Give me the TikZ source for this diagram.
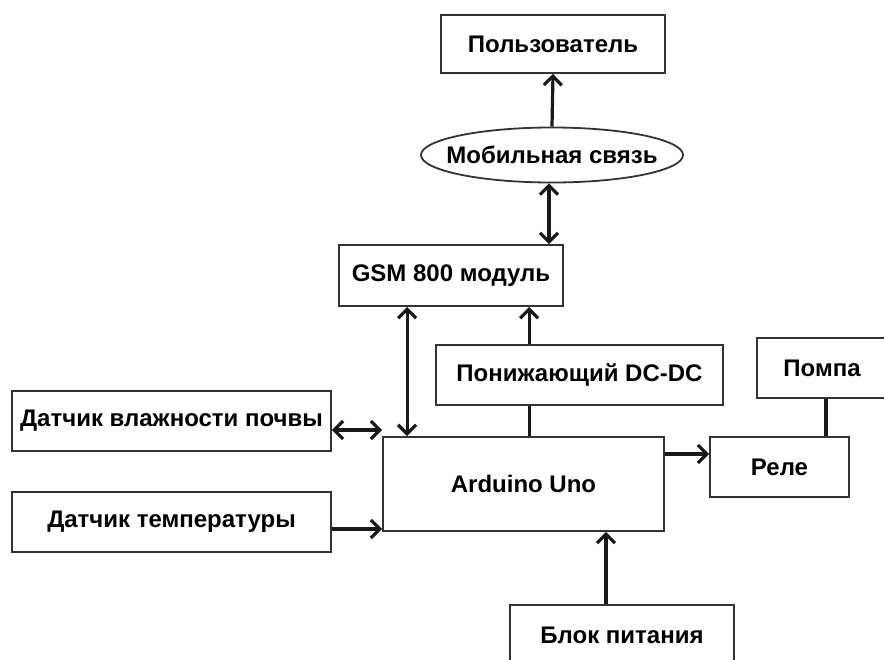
\documentclass[tikz,border=0pt]{standalone}
\usepackage{fontspec}
\setmainfont{Liberation Sans}
\usepackage{tikz}
\usetikzlibrary{arrows.meta}
\usetikzlibrary{shapes.geometric}

\tikzset{
  blok/.style = {draw = black!80, line width = 1.8pt, inner sep = 0pt,
                 font = \fontsize{24}{28}\selectfont\bfseries},
  svyaz/.style = {line width = 3.2pt, black!90},
  strelka/.style = {svyaz, -{Straight Barb[length = 9pt, width = 18pt]}},
  dvestrelki/.style = {svyaz, {Straight Barb[length = 9pt, width = 18pt]}-{Straight Barb[length = 9pt, width = 18pt]}}
}

\begin{document}
\begin{tikzpicture}[x = 1pt, y = -1pt]
            \clip (0, 0) rectangle (884, 659);
            \fill [white] (0, 0) rectangle (884, 659);
            % bloki
            \node [blok, minimum width = 224, minimum height = 58] (polz) at (553, 44) {Пользователь};
            \node [blok, ellipse, inner xsep = -13pt, minimum width = 262, minimum height = 55] (mob) at (552, 155) {Мобильная связь};
            \node [blok, minimum width = 224, minimum height = 61] (gsm) at (451, 275.5) {GSM 800 модуль};
            \node [blok, minimum width = 287, minimum height = 60] (dcdc) at (579.5, 375) {Понижающий DC-DC};
            \node [blok, minimum width = 281, minimum height = 94] (ard) at (523.5, 484) {Arduino Uno};
            \node [blok, minimum width = 319, minimum height = 60] (vlag) at (171.5, 421) {Датчик влажности почвы};
            \node [blok, minimum width = 319, minimum height = 60] (temp) at (171.5, 522) {Датчик температуры};
            \node [blok, minimum width = 139, minimum height = 60] (rele) at (779.5, 467) {Реле};
            \node [blok, minimum width = 130, minimum height = 60] (pompa) at (822, 368) {Помпа};
            \node [blok, minimum width = 224, minimum height = 60] (pitanie) at (622, 635) {Блок питания};
            % svyazi
            \draw [strelka] (mob.north) -- (polz.south);
            \draw [dvestrelki] ([xshift = -3]mob.south) -- ([xshift = -3]mob.south |- gsm.north);
            \draw [dvestrelki] ([xshift = 69]gsm.south west) -- ([xshift = 25]ard.north west);
            \draw [strelka] ([xshift = 94]dcdc.north west) -- ([xshift = 94]dcdc.north west |- gsm.south);
            \draw [svyaz] ([xshift = 147]ard.north west) -- ([xshift = 147]ard.north west |- dcdc.south);
            \draw [dvestrelki] ([yshift = -9]vlag.east) -- ([yshift = -9]vlag.east -| ard.west);
            \draw [strelka] ([yshift = -7]temp.east) -- ([yshift = -7]temp.east -| ard.west);
            \draw [strelka] ([yshift = 13]rele.west -| ard.east) -- ([yshift = 13]rele.west);
            \draw [svyaz] ([xshift = 4]pompa.south) -- ([xshift = 4]pompa.south |- rele.north);
            \draw [strelka] ([xshift = -16]pitanie.north) -- ([xshift = -16]pitanie.north |- ard.south);
        \end{tikzpicture}
\end{document}
